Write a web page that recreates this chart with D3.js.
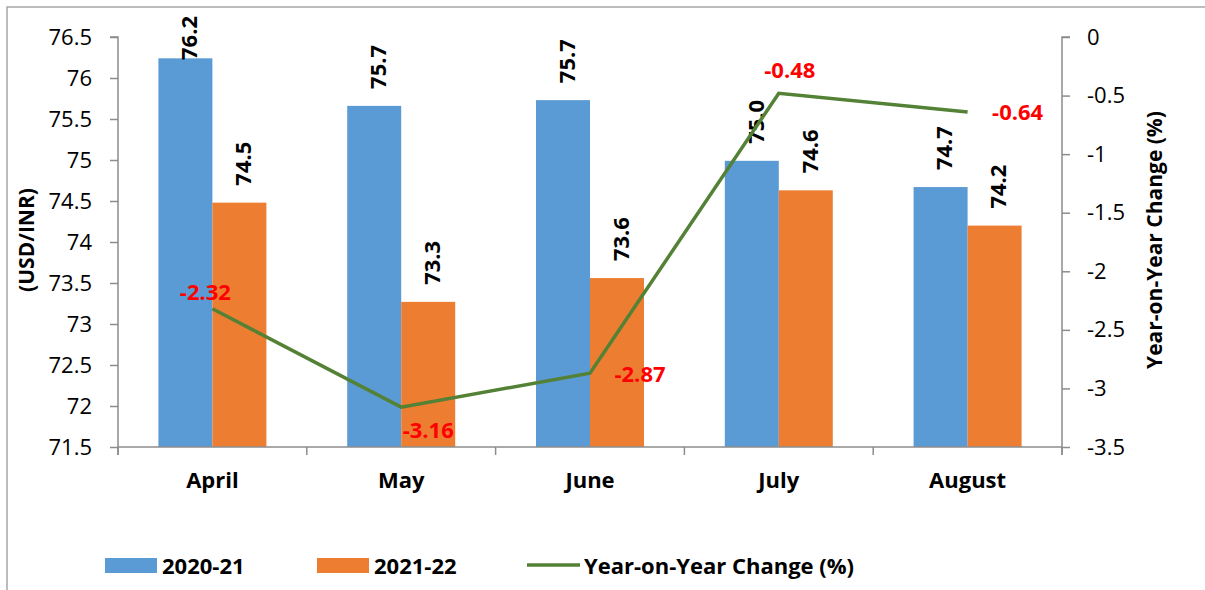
<!DOCTYPE html>
<html>
<head>
<meta charset="utf-8">
<script src="https://cdn.jsdelivr.net/npm/d3@7"></script>
<style>
  body { margin: 0; background: #fff; }
  svg { display: block; font-family: "Open Sans", "DejaVu Sans", sans-serif; }
</style>
</head>
<body>
<svg id="chart" width="1205" height="590"></svg>
<script>
// ---- data ----
const months = ["April", "May", "June", "July", "August"];
const series = ["2020-21", "2021-22"];
const rate2020 = [76.24, 75.66, 75.73, 74.99, 74.67];
const rate2021 = [74.48, 73.27, 73.56, 74.63, 74.20];
const rateLabels2020 = ["76.2", "75.7", "75.7", "75.0", "74.7"];
const rateLabels2021 = ["74.5", "73.3", "73.6", "74.6", "74.2"];
const yoyChange = [-2.32, -3.16, -2.87, -0.48, -0.64];
const leftTicks = [71.5, 72, 72.5, 73, 73.5, 74, 74.5, 75, 75.5, 76, 76.5];
const rightTicks = [0, -0.5, -1, -1.5, -2, -2.5, -3, -3.5];
const lineName = "Year-on-Year Change (%)";
const leftTitle = "(USD/INR)";

// ---- style / layout ----
const colors = { "2020-21": "#5B9BD5", "2021-22": "#ED7D31", line: "#538135", red: "#FF0000", axis: "#8C8C8C" };
// offsets of the red labels relative to their points [dx of text center, dy of baseline]
const yoyLabelOffset = [[-7, -9], [27, 31], [50, 9], [11, -15], [50, 8]];

const svg = d3.select("#chart");
const L = 118, R = 1062, T = 37, B = 447;

svg.append("rect").attr("x", 7).attr("y", 7).attr("width", 1215).attr("height", 610)
  .attr("fill", "none").attr("stroke", "#A6A6A6").attr("stroke-width", 1.5);

const x0 = d3.scaleBand().domain(months).range([L, R]).padding(0);
const bw = x0.bandwidth();
const x1 = d3.scaleBand().domain(series).range([bw * 0.214, bw * 0.786]).padding(0);
const yL = d3.scaleLinear().domain([71.5, 76.5]).range([B, T]);
const yR = d3.scaleLinear().domain([-3.5, 0]).range([B, T]);

const data = months.map((m, i) => ({
  month: m,
  vals: [
    { s: "2020-21", v: rate2020[i], lbl: rateLabels2020[i] },
    { s: "2021-22", v: rate2021[i], lbl: rateLabels2021[i] }
  ],
  yoy: yoyChange[i]
}));

// bars
const g = svg.append("g");
const groups = g.selectAll("g.m").data(data).join("g").attr("class", "m")
  .attr("transform", d => `translate(${x0(d.month)},0)`);
groups.selectAll("rect").data(d => d.vals).join("rect")
  .attr("x", d => x1(d.s)).attr("width", x1.bandwidth())
  .attr("y", d => yL(d.v)).attr("height", d => B - yL(d.v))
  .attr("fill", d => colors[d.s]);

// bar value labels (rotated)
groups.selectAll("text.v").data(d => d.vals).join("text").attr("class", "v")
  .attr("transform", d => {
    const cx = x1(d.s) + x1.bandwidth() / 2 + 4;
    const cy = Math.max(yL(d.v) - 17, T + 23);
    return `translate(${cx},${cy}) rotate(-90)`;
  })
  .attr("text-anchor", "start").attr("dy", "0.35em")
  .attr("font-size", 22).attr("font-weight", 700).attr("fill", "#000")
  .text(d => d.lbl);

// axes
const fmt = d => String(d).replace("\u2212", "-");
const axisL = d3.axisLeft(yL).tickValues(leftTicks).tickSize(8).tickPadding(18).tickFormat(fmt);
const gL = svg.append("g").attr("transform", `translate(${L},0)`).call(axisL);
const axisR = d3.axisRight(yR).tickValues(rightTicks).tickSize(8).tickPadding(17).tickFormat(fmt);
const gR = svg.append("g").attr("transform", `translate(${R},0)`).call(axisR);
[gL, gR].forEach(a => {
  a.select(".domain").attr("stroke", colors.axis).attr("stroke-width", 1.5)
    .attr("d", a === gL ? `M-8,${T}H0V${B + 8}` : `M8,${T}H0V${B + 8}`);
  a.selectAll(".tick line").attr("stroke", colors.axis).attr("stroke-width", 1.5);
  a.selectAll(".tick text").attr("font-size", 22).attr("fill", "#000")
    .attr("font-family", "'Open Sans', sans-serif");
});

// bottom axis
const gB = svg.append("g");
gB.append("line").attr("x1", L).attr("x2", R).attr("y1", B).attr("y2", B)
  .attr("stroke", colors.axis).attr("stroke-width", 1.5);
const bounds = months.map(m => x0(m)).concat([R]);
gB.selectAll("line.t").data(bounds).join("line").attr("class", "t")
  .attr("x1", d => d).attr("x2", d => d).attr("y1", B).attr("y2", B + 8)
  .attr("stroke", colors.axis).attr("stroke-width", 1.5);
gB.selectAll("text").data(months).join("text")
  .attr("x", d => x0(d) + bw / 2).attr("y", 488)
  .attr("text-anchor", "middle").attr("font-size", 22).attr("font-weight", 700)
  .text(d => d);

// line
const line = d3.line().x(d => x0(d.month) + bw / 2).y(d => yR(d.yoy));
svg.append("path").datum(data).attr("d", line)
  .attr("fill", "none").attr("stroke", colors.line).attr("stroke-width", 3.5)
  .attr("stroke-linejoin", "miter");

svg.selectAll("text.yoy").data(data).join("text").attr("class", "yoy")
  .attr("x", (d, i) => x0(d.month) + bw / 2 + yoyLabelOffset[i][0])
  .attr("y", (d, i) => yR(d.yoy) + yoyLabelOffset[i][1])
  .attr("text-anchor", "middle").attr("font-size", 22).attr("font-weight", 700)
  .attr("fill", colors.red)
  .text(d => d.yoy.toFixed(2));

// axis titles
svg.append("text").attr("transform", "translate(27,240) rotate(-90)")
  .attr("text-anchor", "middle").attr("dy", "0.35em")
  .attr("font-size", 21).attr("font-weight", 700).text(leftTitle);
svg.append("text").attr("transform", "translate(1155,240) rotate(-90)")
  .attr("text-anchor", "middle").attr("dy", "0.35em")
  .attr("font-size", 21).attr("font-weight", 700).text(lineName);

// legend
const leg = svg.append("g");
const legItems = [
  { name: series[0], type: "rect", color: colors["2020-21"], x: 105 },
  { name: series[1], type: "rect", color: colors["2021-22"], x: 317 },
  { name: lineName, type: "line", color: colors.line, x: 527 }
];
legItems.forEach(it => {
  if (it.type === "rect") {
    leg.append("rect").attr("x", it.x).attr("y", 558).attr("width", 52).attr("height", 15).attr("fill", it.color);
  } else {
    leg.append("line").attr("x1", it.x).attr("x2", it.x + 53).attr("y1", 565).attr("y2", 565)
      .attr("stroke", it.color).attr("stroke-width", 3.5);
  }
  leg.append("text").attr("x", it.x + 57).attr("y", 574)
    .attr("font-size", 22).attr("font-weight", 700).text(it.name);
});
</script>
</body>
</html>
